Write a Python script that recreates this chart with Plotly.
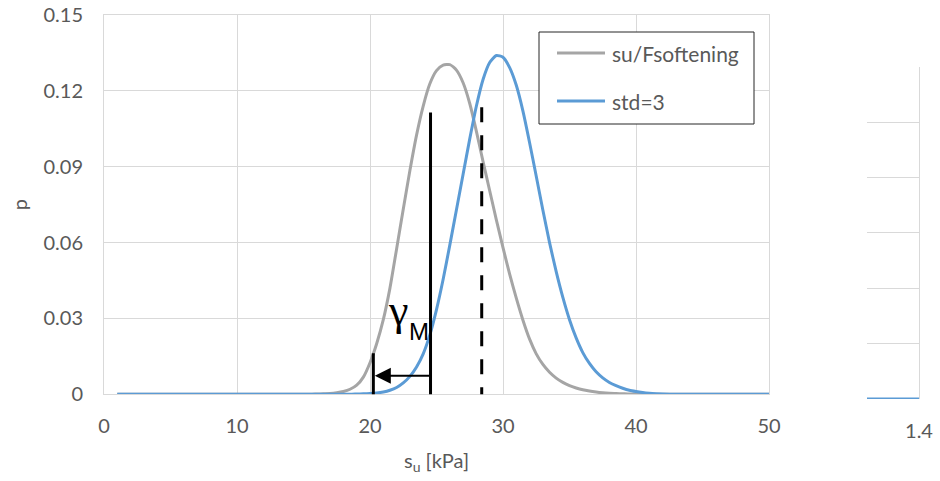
import plotly.graph_objects as go

# Probability density of undrained shear strength s_u [kPa]
su_soft = [1, 2, 3, 4, 5, 6, 7, 8, 9, 10, 11, 12, 13, 14,
           15, 15.5, 16, 16.5, 17, 17.5, 18, 18.5, 19, 19.5, 20, 20.5, 21, 21.5,
           22, 22.5, 23, 23.5, 24, 24.5, 25, 25.5, 26, 26.5, 27, 27.5, 28, 28.5,
           29, 29.5, 30, 30.5, 31, 31.5, 32, 32.5, 33, 33.5, 34, 34.5, 35, 35.5,
           36, 36.5, 37, 37.5, 38, 38.5, 39, 39.5, 40, 40.5, 41, 41.5, 42,
           43, 44, 45, 46, 47, 48, 49, 50]
p_soft = [0, 0, 0, 0, 0, 0, 0, 0, 0, 0, 0, 0, 0, 0,
          0, 0, 0.0001, 0.0002, 0.0003, 0.0006, 0.0011, 0.0020, 0.0036, 0.0068,
          0.0125, 0.0200, 0.0295, 0.0420, 0.0575, 0.0732, 0.0885, 0.1025, 0.1140,
          0.1228, 0.1280, 0.1302, 0.1304, 0.1282, 0.1232, 0.1150, 0.1040, 0.0920,
          0.0805, 0.0690, 0.0580, 0.0475, 0.0380, 0.0293, 0.0218, 0.0160, 0.0118,
          0.0087, 0.0064, 0.0047, 0.0034, 0.0025, 0.0018, 0.0013, 0.0009, 0.0006,
          0.0004, 0.0003, 0.0002, 0.0001, 0.0001, 0, 0, 0, 0,
          0, 0, 0, 0, 0, 0, 0, 0]

su_std3 = [1, 2, 3, 4, 5, 6, 7, 8, 9, 10, 11, 12, 13, 14,
           15, 15.5, 16, 16.5, 17, 17.5, 18, 18.5, 19, 19.5, 20, 20.5, 21, 21.5,
           22, 22.5, 23, 23.5, 24, 24.5, 25, 25.5, 26, 26.5, 27, 27.5, 28, 28.5,
           29, 29.5, 30, 30.5, 31, 31.5, 32, 32.5, 33, 33.5, 34, 34.5, 35, 35.5,
           36, 36.5, 37, 37.5, 38, 38.5, 39, 39.5, 40, 40.5, 41, 41.5, 42,
           43, 44, 45, 46, 47, 48, 49, 50]
p_std3 = [0, 0, 0, 0, 0, 0, 0, 0, 0, 0, 0, 0, 0, 0,
          0, 0, 0, 0, 0, 0, 0, 0, 0.0001, 0.0002, 0.0003, 0.0005, 0.0009, 0.0016,
          0.0027, 0.0045, 0.0071, 0.0108, 0.0160, 0.0235, 0.0335, 0.0455, 0.0590,
          0.0730, 0.0870, 0.1010, 0.1140, 0.1245, 0.1312, 0.1340, 0.1333, 0.1292,
          0.1222, 0.1120, 0.0995, 0.0862, 0.0728, 0.0600, 0.0485, 0.0383, 0.0295,
          0.0223, 0.0165, 0.0122, 0.0089, 0.0065, 0.0047, 0.0034, 0.0024, 0.0016,
          0.0011, 0.0007, 0.0004, 0.0002, 0.0001,
          0, 0, 0, 0, 0, 0, 0, 0]

series_names = ["su/Fsoftening", "std=3"]

x_ticks = [0, 10, 20, 30, 40, 50]
x_tick_text = ["0", "10", "20", "30", "40", "50"]
y_ticks = [0, 0.03, 0.06, 0.09, 0.12, 0.15]
y_tick_text = ["0", "0.03", "0.06", "0.09", "0.12", "0.15"]

# Neighbouring panel (only its right end is in view)
side_x = [1.3, 1.4]
side_p = [0, 0]
side_x_ticks = [1.4]
side_x_tick_text = ["1.4"]
side_y_ticks = [0, 1, 2, 3, 4, 5, 6]

# Partial factor construction
su_design = 24.55        # design value (solid line)
su_design_top = 0.1114
su_char = 28.4           # characteristic value (dashed line)
su_char_top = 0.1135
su_gamma_left = 20.25    # end of the gamma_M arrow
su_gamma_left_top = 0.0162
gamma_arrow_p = 0.0073

GRAY = "#A5A5A5"
BLUE = "#5B9BD5"
GRID = "#D9D9D9"
TXT = "#595959"
FONT = "Lato"
colors = [GRAY, BLUE]

fig = go.Figure()
for xs, ys, name, col in [(su_soft, p_soft, series_names[0], GRAY),
                          (su_std3, p_std3, series_names[1], BLUE)]:
    fig.add_trace(go.Scatter(x=xs, y=ys, mode="lines", name=name, showlegend=False,
                             line=dict(color=col, width=3, shape="spline", smoothing=0.6)))
fig.add_trace(go.Scatter(x=side_x, y=side_p, mode="lines", showlegend=False,
                         line=dict(color=BLUE, width=3), xaxis="x2", yaxis="y2"))

# plot area in pixels: x 104..919, y 15..399
W, H = 940, 481
L, R, T, B = 104, 21, 15, 82
pw, ph = W - L - R, H - T - B
main_right = 769
main_bottom = 394.3
side_left = 867
side_top = 66.7


def px(xp):
    return (xp - L) / pw


def py(yp):
    return (H - B - yp) / ph


fig.update_layout(
    width=W, height=H,
    margin=dict(l=L, r=R, t=T, b=B, pad=0, autoexpand=False),
    paper_bgcolor="white", plot_bgcolor="white",
    font=dict(family=FONT, size=20, color=TXT),
    showlegend=False,
    xaxis=dict(domain=[0, px(main_right)], range=[0, 50], automargin=False,
               tickvals=x_ticks, ticktext=x_tick_text,
               showgrid=True, gridcolor=GRID, gridwidth=1,
               showline=True, linecolor=GRID, linewidth=1, mirror=True,
               zeroline=False, ticks="", ticklabelstandoff=14,
               title=dict(text="s<sub>u</sub> [kPa]", standoff=17,
                          font=dict(family=FONT, size=20, color=TXT))),
    yaxis=dict(domain=[py(main_bottom), 1], range=[0, 0.15], automargin=False,
               tickvals=y_ticks, ticktext=y_tick_text,
               showgrid=True, gridcolor=GRID, gridwidth=1,
               showline=True, linecolor=GRID, linewidth=1, mirror=True,
               zeroline=False, ticks="", ticklabelstandoff=16,
               title=dict(text="p", standoff=10,
                          font=dict(family=FONT, size=20, color=TXT))),
    xaxis2=dict(domain=[px(side_left), 1], range=[side_x[0], side_x[1]],
                anchor="y2", tickvals=side_x_ticks, ticktext=side_x_tick_text,
                automargin=False, showgrid=False, showline=False, zeroline=False,
                ticks="", ticklabelstandoff=18),
    yaxis2=dict(domain=[0, py(side_top)], range=[0, 6], anchor="x2", automargin=False,
                tickvals=side_y_ticks, showticklabels=False, side="right",
                showgrid=True, gridcolor=GRID, gridwidth=1,
                showline=True, linecolor=GRID, linewidth=1,
                zeroline=False, ticks=""),
)

# legend box with line samples
fig.add_shape(type="rect", xref="paper", yref="paper", x0=px(539), x1=px(754),
              y0=py(124), y1=py(32), fillcolor="white",
              line=dict(color="#262626", width=1), layer="above")
for i, (name, col) in enumerate(zip(series_names, colors)):
    yy = py(53 + 48 * i)
    fig.add_shape(type="line", xref="paper", yref="paper", x0=px(557), x1=px(605),
                  y0=yy, y1=yy, line=dict(color=col, width=3), layer="above")
    fig.add_annotation(x=px(610), y=yy, xref="paper", yref="paper", text=name,
                       showarrow=False, xanchor="left", yanchor="middle",
                       font=dict(family=FONT, size=21, color=TXT))

# design value, characteristic value and the gamma_M step between them
fig.add_shape(type="line", xref="x", yref="y", x0=su_design, x1=su_design,
              y0=su_design_top, y1=-0.001, line=dict(color="black", width=3))
fig.add_shape(type="line", xref="x", yref="y", x0=su_char, x1=su_char,
              y0=su_char_top, y1=-0.001, line=dict(color="black", width=3, dash="15px,13px"))
fig.add_shape(type="line", xref="x", yref="y", x0=su_gamma_left, x1=su_gamma_left,
              y0=su_gamma_left_top, y1=-0.001, line=dict(color="black", width=3))
fig.add_annotation(x=su_gamma_left, y=gamma_arrow_p, ax=su_design, ay=gamma_arrow_p,
                   xref="x", yref="y", axref="x", ayref="y", text="",
                   showarrow=True, arrowhead=2, arrowsize=1.6, arrowwidth=2,
                   arrowcolor="black", standoff=1.5)
fig.add_annotation(x=22.1, y=0.0330, xref="x", yref="y", text="γ", showarrow=False,
                   font=dict(family="Liberation Serif", size=44, color="black"),
                   xanchor="center", yanchor="middle")
fig.add_annotation(x=23.72, y=0.0250, xref="x", yref="y", text="M", showarrow=False,
                   font=dict(family="Liberation Sans", size=24, color="black"),
                   xanchor="center", yanchor="middle")

fig.write_html("out.html")
